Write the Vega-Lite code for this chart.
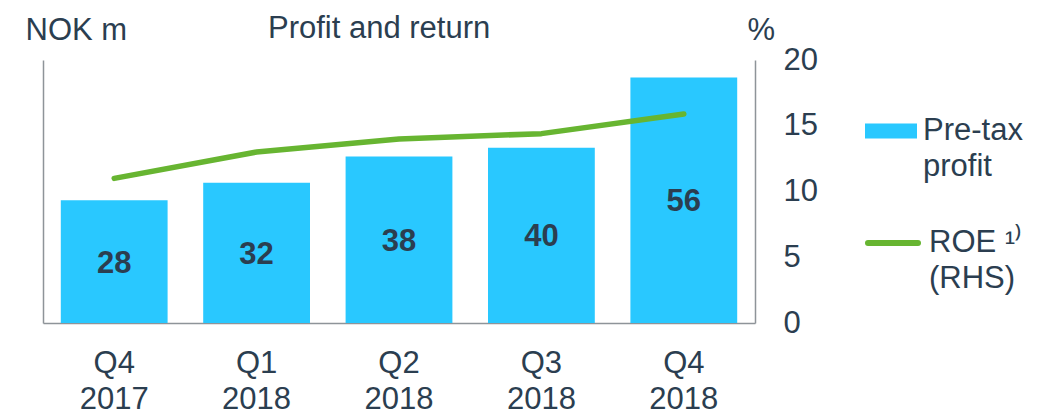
{
  "$schema": "https://vega.github.io/schema/vega-lite/v6.json",
  "width": 712,
  "height": 263,
  "autosize": {"type": "none"},
  "padding": {"left": 43, "top": 60, "right": 295, "bottom": 90},
  "background": "white",
  "config": {
    "font": "Liberation Sans",
    "view": {"stroke": null},
    "axis": {"grid": false}
  },
  "title": {
    "text": "Profit and return",
    "anchor": "start",
    "frame": "group",
    "dx": 225,
    "dy": 55,
    "offset": 0,
    "fontSize": 31,
    "fontWeight": "normal",
    "color": "#2B3E50",
    "baseline": "alphabetic"
  },
  "data": {
    "values": [
      {"quarter": "Q4 2017", "profit": 28, "roe": 11.0},
      {"quarter": "Q1 2018", "profit": 32, "roe": 13.0},
      {"quarter": "Q2 2018", "profit": 38, "roe": 14.0},
      {"quarter": "Q3 2018", "profit": 40, "roe": 14.4},
      {"quarter": "Q4 2018", "profit": 56, "roe": 15.9}
    ]
  },
  "layer": [
    {
      "mark": {"type": "bar"},
      "encoding": {
        "x": {
          "field": "quarter",
          "type": "nominal",
          "sort": null,
          "scale": {"paddingInner": 0.25, "paddingOuter": 0.125},
          "axis": {
            "title": null,
            "labelAngle": 0,
            "labelExpr": "split(datum.label, ' ')",
            "labelFontSize": 31,
            "labelLineHeight": 36,
            "labelPadding": 25,
            "labelColor": "#2B3E50",
            "ticks": false,
            "domainColor": "#8E9499",
            "domainWidth": 1.5
          }
        },
        "y": {
          "field": "profit",
          "type": "quantitative",
          "scale": {"domain": [0, 60]},
          "axis": {
            "orient": "left",
            "labels": false,
            "ticks": false,
            "domainColor": "#8E9499",
            "domainWidth": 1.5,
            "title": "NOK m",
            "titleAngle": 0,
            "titleX": -18,
            "titleY": -21,
            "titleAlign": "left",
            "titleBaseline": "alphabetic",
            "titleFontSize": 31,
            "titleFontWeight": "normal",
            "titleColor": "#2B3E50"
          }
        },
        "fill": {
          "datum": "Pre-tax profit",
          "type": "nominal",
          "scale": {"range": ["#29C8FF"]},
          "legend": {
            "orient": "none",
            "legendX": 822,
            "legendY": 45,
            "padding": 0,
            "title": null,
            "symbolType": "M-1,-0.29H1V0.29H-1Z",
            "symbolSize": 2704,
            "symbolStrokeWidth": 0,
            "labelFontSize": 31,
            "labelColor": "#2B3E50",
            "labelOffset": 6,
            "labelLimit": 300,
            "labelBaseline": "middle",
            "labelExpr": "['Pre-tax', 'profit']",
            "encode": {"labels": {"update": {"lineHeight": {"value": 36}}}}
          }
        }
      }
    },
    {
      "mark": {"type": "text", "fontSize": 31, "fontWeight": "bold", "color": "#2B3E50", "baseline": "middle", "dy": 2},
      "encoding": {
        "x": {"field": "quarter", "type": "nominal", "sort": null},
        "y": {"field": "profit", "type": "quantitative", "scale": {"domain": [0, 120]}, "axis": null},
        "text": {"field": "profit", "type": "quantitative"}
      }
    },
    {
      "mark": {"type": "line", "strokeWidth": 5.5, "strokeCap": "round", "strokeJoin": "round"},
      "encoding": {
        "x": {"field": "quarter", "type": "nominal", "sort": null},
        "y": {
          "field": "roe",
          "type": "quantitative",
          "scale": {"domain": [0, 20]},
          "axis": {
            "orient": "right",
            "values": [0, 5, 10, 15, 20],
            "ticks": false,
            "labelPadding": 28,
            "labelFontSize": 31,
            "labelColor": "#2B3E50",
            "domainColor": "#8E9499",
            "domainWidth": 1.5,
            "title": "%",
            "titleAngle": 0,
            "titleX": -8,
            "titleY": -21,
            "titleAlign": "left",
            "titleBaseline": "alphabetic",
            "titleFontSize": 31,
            "titleFontWeight": "normal",
            "titleColor": "#2B3E50"
          }
        },
        "stroke": {
          "datum": "ROE",
          "type": "nominal",
          "scale": {"range": ["#67B531"]},
          "legend": {
            "orient": "none",
            "legendX": 822,
            "legendY": 155,
            "padding": 0,
            "title": null,
            "symbolType": "stroke",
            "symbolSize": 2500,
            "symbolStrokeWidth": 6,
            "labelFontSize": 31,
            "labelColor": "#2B3E50",
            "labelOffset": 8,
            "labelLimit": 300,
            "labelBaseline": "middle",
            "labelExpr": "['ROE ¹⁾', '(RHS)']",
            "encode": {
              "labels": {"update": {"lineHeight": {"value": 36}}},
              "symbols": {"update": {"strokeCap": {"value": "round"}}}
            }
          }
        }
      }
    }
  ],
  "resolve": {"scale": {"y": "independent"}}
}
